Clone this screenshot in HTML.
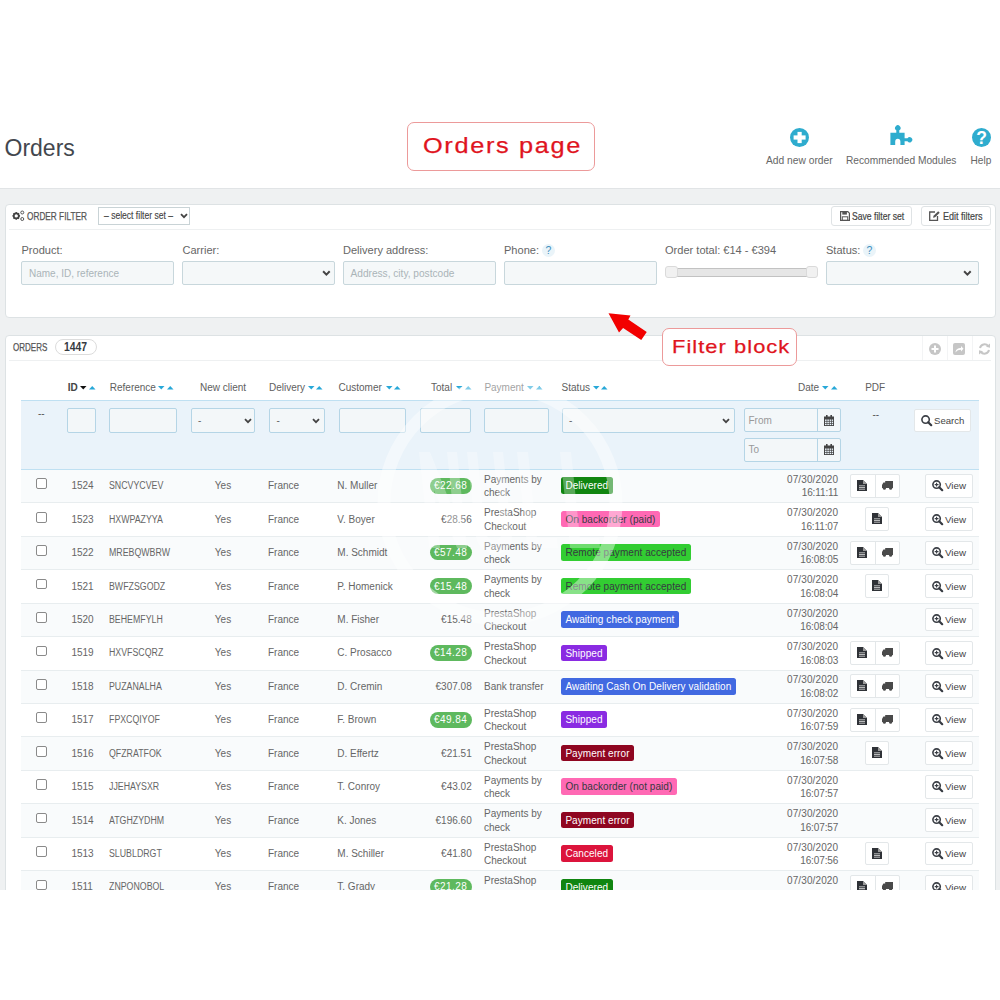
<!DOCTYPE html><html><head><meta charset="utf-8"><style>
*{box-sizing:border-box;margin:0;padding:0}
html,body{width:1000px;height:1000px;overflow:hidden;background:#fff;font-family:"Liberation Sans", sans-serif;}
.a{position:absolute}
.t{position:absolute;line-height:1;white-space:nowrap}
svg{position:absolute;overflow:visible}
</style></head><body><div class="t" style="top:136.83px;font-size:23px;color:#43474e;left:4.5px;">Orders</div>
<div class="a" style="left:407px;top:121.5px;width:187.5px;height:49.5px;border:1.3px solid #ec9a9a;border-radius:7px;background:#fff"></div>
<div class="t" style="top:134.68px;font-size:22px;color:#e0141e;left:422.5px;"><span style="display:inline-block;transform:scaleX(1.15);transform-origin:0 0;letter-spacing:1.45px;-webkit-text-stroke:0.25px #e0141e">Orders page</span></div>
<svg style="left:789.5px;top:128px" width="19" height="19" viewBox="0 0 19 19"><circle cx="9.5" cy="9.5" r="9.5" fill="#2eacce"/><rect x="3.6" y="7.4" width="12" height="4.2" fill="#fff"/><rect x="7.5" y="3.9" width="4.2" height="11.2" fill="#fff"/></svg>
<svg style="left:890px;top:126px" width="22" height="20" viewBox="0 0 22 20"><path fill="#2eacce" d="M0.4 6.8 H6.3 V4.25 A2.7 2.7 0 1 1 9.3 4.25 V6.8 H14.6 V12.3 H17.5 A2.6 2.6 0 1 1 17.5 15.3 H14.6 V19 H10.4 V15.8 A2.6 3 0 0 0 5.2 15.8 V19 H0.4 Z"/></svg>
<svg style="left:971.5px;top:127.5px" width="19" height="19" viewBox="0 0 19 19"><circle cx="9.5" cy="9.5" r="9.5" fill="#2eacce"/><text x="9.6" y="16.2" text-anchor="middle" font-family="Liberation Sans" font-weight="bold" font-size="17.5" fill="#fff">?</text></svg>
<div class="t" style="top:156.22px;font-size:10.25px;color:#666;left:766px;">Add new order</div>
<div class="t" style="top:156.27px;font-size:10.2px;color:#666;left:846px;">Recommended Modules</div>
<div class="t" style="top:156.35px;font-size:10.1px;color:#666;left:970.5px;">Help</div>
<div class="a" style="left:0px;top:188px;width:1000px;height:702px;background:#eff1f2;border-top:1px solid #e1e4e6"></div>
<div class="a" style="left:4.5px;top:203.5px;width:991px;height:114px;background:#fff;border:1px solid #dde2e4;border-radius:4px"></div>
<div class="a" style="left:9px;top:228.5px;width:982px;height:1px;background:#eef0f1"></div>
<svg style="left:11px;top:210px" width="14" height="12" viewBox="0 0 14 12"><g transform="translate(5.25,5.9)" fill="#444"><circle r="2.5" fill="none" stroke="#444" stroke-width="1.6"/><rect x="-0.8" y="-3.8" width="1.6" height="1.8" transform="rotate(0)"/><rect x="-0.8" y="-3.8" width="1.6" height="1.8" transform="rotate(45)"/><rect x="-0.8" y="-3.8" width="1.6" height="1.8" transform="rotate(90)"/><rect x="-0.8" y="-3.8" width="1.6" height="1.8" transform="rotate(135)"/><rect x="-0.8" y="-3.8" width="1.6" height="1.8" transform="rotate(180)"/><rect x="-0.8" y="-3.8" width="1.6" height="1.8" transform="rotate(225)"/><rect x="-0.8" y="-3.8" width="1.6" height="1.8" transform="rotate(270)"/><rect x="-0.8" y="-3.8" width="1.6" height="1.8" transform="rotate(315)"/></g><g fill="none" stroke="#555" stroke-width="1"><circle cx="11.25" cy="2.5" r="1.5"/><circle cx="11.25" cy="9" r="1.5"/></g></svg>
<div class="t" style="top:210.69px;font-size:11px;color:#555;left:27px;"><span style="display:inline-block;transform:scaleX(0.75);transform-origin:0 0;-webkit-text-stroke:0.25px #555">ORDER FILTER</span></div>
<div class="a" style="left:98px;top:207px;width:92px;height:17.5px;border:1px solid #c9d3d6;background:#fff"></div>
<div class="t" style="top:210.29px;font-size:11px;color:#444;left:104px;"><span style="display:inline-block;transform:scaleX(0.778);transform-origin:0 0;-webkit-text-stroke:0.15px #444">– select filter set –</span></div>
<svg style="left:180px;top:213px" width="8" height="6" viewBox="0 0 8 6"><path d="M1 1.2 L4 4.2 L7 1.2" fill="none" stroke="#444" stroke-width="1.8"/></svg>
<div class="a" style="left:831px;top:206.3px;width:81.3px;height:19.7px;border:1px solid #dfe3e5;border-radius:3px;background:#fff"></div>
<div class="a" style="left:921px;top:206.3px;width:70.3px;height:19.7px;border:1px solid #dfe3e5;border-radius:3px;background:#fff"></div>
<svg style="left:840px;top:211px" width="10" height="10" viewBox="0 0 10 10"><path d="M0.6 0.6 H7.8 L9.4 2.2 V9.4 H0.6 Z" fill="none" stroke="#555" stroke-width="1.2"/><rect x="2.3" y="0.6" width="4.6" height="3" fill="#555"/><rect x="2.3" y="5.8" width="5.4" height="3.6" fill="none" stroke="#555" stroke-width="1"/></svg>
<div class="t" style="top:210.99px;font-size:11px;color:#444;left:851.5px;"><span style="display:inline-block;transform:scaleX(0.783);transform-origin:0 0;-webkit-text-stroke:0.2px #444">Save filter set</span></div>
<svg style="left:929px;top:210.5px" width="11" height="10" viewBox="0 0 11 10"><path d="M6 1 H0.7 V9.3 H8.5 V5" fill="none" stroke="#555" stroke-width="1.3"/><path d="M4 6.8 L4.6 4.8 L9.2 0.3 L10.7 1.8 L6.1 6.3 Z" fill="#555"/></svg>
<div class="t" style="top:210.99px;font-size:11px;color:#444;left:943.3px;"><span style="display:inline-block;transform:scaleX(0.82);transform-origin:0 0;-webkit-text-stroke:0.2px #444">Edit filters</span></div>
<div class="t" style="top:245.35px;font-size:11.05px;color:#666;left:21.5px;">Product:</div>
<div class="t" style="top:245.35px;font-size:11.05px;color:#666;left:182.5px;">Carrier:</div>
<div class="t" style="top:245.35px;font-size:11.05px;color:#666;left:343px;">Delivery address:</div>
<div class="t" style="top:245.35px;font-size:11.05px;color:#666;left:504px;">Phone:</div>
<div class="t" style="top:245.35px;font-size:11.05px;color:#666;left:665px;">Order total: €14 - €394</div>
<div class="t" style="top:245.35px;font-size:11.05px;color:#666;left:826px;">Status:</div>
<svg style="left:542.2px;top:244.0px" width="13" height="13" viewBox="0 0 13 13"><circle cx="6.5" cy="6.5" r="6.5" fill="#eaf4f9"/><text x="6.5" y="10.2" text-anchor="middle" font-family="Liberation Sans" font-size="10.5" fill="#3f8fbf">?</text></svg>
<svg style="left:863.0px;top:244.0px" width="13" height="13" viewBox="0 0 13 13"><circle cx="6.5" cy="6.5" r="6.5" fill="#eaf4f9"/><text x="6.5" y="10.2" text-anchor="middle" font-family="Liberation Sans" font-size="10.5" fill="#3f8fbf">?</text></svg>
<div class="a" style="left:21px;top:261px;width:152.5px;height:24.3px;background:#f5f8f9;border:1px solid #c8d7dc;border-radius:2px"></div>
<div class="a" style="left:182px;top:261px;width:152.5px;height:24.3px;background:#f5f8f9;border:1px solid #c8d7dc;border-radius:2px"></div>
<div class="a" style="left:343px;top:261px;width:152.5px;height:24.3px;background:#f5f8f9;border:1px solid #c8d7dc;border-radius:2px"></div>
<div class="a" style="left:504px;top:261px;width:152.5px;height:24.3px;background:#f5f8f9;border:1px solid #c8d7dc;border-radius:2px"></div>
<div class="a" style="left:826px;top:261px;width:152.5px;height:24.3px;background:#f5f8f9;border:1px solid #c8d7dc;border-radius:2px"></div>
<div class="t" style="top:268.74px;font-size:10.0px;color:#aab4b8;left:29px;">Name, ID, reference</div>
<div class="t" style="top:268.61px;font-size:10.15px;color:#aab4b8;left:350.5px;">Address, city, postcode</div>
<svg style="left:321.5px;top:270.3px" width="8.8" height="6.6000000000000005" viewBox="0 0 8 6"><path d="M1 1.2 L4 4.2 L7 1.2" fill="none" stroke="#444" stroke-width="1.8"/></svg>
<svg style="left:962.5px;top:270.3px" width="8.8" height="6.6000000000000005" viewBox="0 0 8 6"><path d="M1 1.2 L4 4.2 L7 1.2" fill="none" stroke="#444" stroke-width="1.8"/></svg>
<div class="a" style="left:667px;top:267.8px;width:149px;height:9.2px;background:#e6e6e6;border:1px solid #c2c2c2;border-left:0;border-right:0"></div>
<div class="a" style="left:665px;top:266px;width:12.5px;height:12.4px;background:#f1f1f1;border:1px solid #dadada;border-radius:3px"></div>
<div class="a" style="left:805.5px;top:266px;width:12.5px;height:12.4px;background:#f1f1f1;border:1px solid #dadada;border-radius:3px"></div>
<div class="a" style="left:4.5px;top:334.5px;width:991px;height:600px;background:#fff;border:1px solid #dde2e4;border-radius:4px"></div>
<div class="a" style="left:9px;top:360px;width:982px;height:1px;background:#eef0f1"></div>
<div class="t" style="top:342.09px;font-size:11px;color:#555;left:12.6px;"><span style="display:inline-block;transform:scaleX(0.73);transform-origin:0 0;-webkit-text-stroke:0.25px #555">ORDERS</span></div>
<div class="a" style="left:55px;top:339px;width:42px;height:16.4px;border:1px solid #dcdcdc;border-radius:8.5px;background:#fff"></div>
<div class="t" style="top:341.22px;font-size:12.5px;color:#363a41;font-weight:bold;left:64px;"><span style="display:inline-block;transform:scaleX(0.83);transform-origin:0 0">1447</span></div>
<div class="a" style="left:921.5px;top:336px;width:1px;height:24px;background:#f3f4f5"></div>
<div class="a" style="left:946.5px;top:336px;width:1px;height:24px;background:#f3f4f5"></div>
<div class="a" style="left:971.5px;top:336px;width:1px;height:24px;background:#f3f4f5"></div>
<svg style="left:928.5px;top:342.5px" width="12" height="12" viewBox="0 0 12 12"><circle cx="6" cy="6" r="6" fill="#c6c6c6"/><rect x="2.5" y="5" width="7" height="2" fill="#fff"/><rect x="5" y="2.5" width="2" height="7" fill="#fff"/></svg>
<svg style="left:953px;top:342.5px" width="12" height="12" viewBox="0 0 12 12"><rect x="0" y="0" width="12" height="12" rx="2" fill="#c6c6c6"/><path d="M2.5 9.5 C3 6 5 5 8 5 V3 L10.5 5.8 L8 8.5 V6.8 C5.5 6.8 4 7.5 2.5 9.5 Z" fill="#fff"/></svg>
<svg style="left:977.5px;top:342.5px" width="13" height="12" viewBox="0 0 13 12"><path d="M2 5 A4.6 4.6 0 0 1 10.2 3.2" fill="none" stroke="#c6c6c6" stroke-width="2"/><path d="M11 7 A4.6 4.6 0 0 1 2.8 8.8" fill="none" stroke="#c6c6c6" stroke-width="2"/><path d="M8 3.8 L12 0.5 L12 4.8 Z" fill="#c6c6c6"/><path d="M5 8.2 L1 11.5 L1 7.2 Z" fill="#c6c6c6"/></svg>
<div class="t" style="top:382.84px;font-size:10px;color:#444;font-weight:bold;left:67.8px;">ID</div>
<svg style="left:80.3px;top:385.6px" width="6.5" height="3.5" viewBox="0 0 6.5 3.5"><path d="M0 0 H6.5 L3.25 3.5 Z" fill="#111"/></svg>
<svg style="left:89.1px;top:385.6px" width="6.5" height="3.5" viewBox="0 0 6.5 3.5"><path d="M0 3.5 H6.5 L3.25 0 Z" fill="#27a8d8"/></svg>
<div class="t" style="top:382.84px;font-size:10px;color:#606060;left:109.8px;">Reference</div>
<svg style="left:158px;top:385.6px" width="6.5" height="3.5" viewBox="0 0 6.5 3.5"><path d="M0 0 H6.5 L3.25 3.5 Z" fill="#27a8d8"/></svg>
<svg style="left:166.8px;top:385.6px" width="6.5" height="3.5" viewBox="0 0 6.5 3.5"><path d="M0 3.5 H6.5 L3.25 0 Z" fill="#27a8d8"/></svg>
<div class="t" style="top:382.84px;font-size:10px;color:#606060;left:193.0px;width:60px;text-align:center;">New client</div>
<div class="t" style="top:382.84px;font-size:10px;color:#606060;left:269px;">Delivery</div>
<svg style="left:307.5px;top:385.6px" width="6.5" height="3.5" viewBox="0 0 6.5 3.5"><path d="M0 0 H6.5 L3.25 3.5 Z" fill="#27a8d8"/></svg>
<svg style="left:316.3px;top:385.6px" width="6.5" height="3.5" viewBox="0 0 6.5 3.5"><path d="M0 3.5 H6.5 L3.25 0 Z" fill="#27a8d8"/></svg>
<div class="t" style="top:382.84px;font-size:10px;color:#606060;left:338.5px;">Customer</div>
<svg style="left:385.5px;top:385.6px" width="6.5" height="3.5" viewBox="0 0 6.5 3.5"><path d="M0 0 H6.5 L3.25 3.5 Z" fill="#27a8d8"/></svg>
<svg style="left:394.3px;top:385.6px" width="6.5" height="3.5" viewBox="0 0 6.5 3.5"><path d="M0 3.5 H6.5 L3.25 0 Z" fill="#27a8d8"/></svg>
<div class="t" style="top:382.84px;font-size:10px;color:#606060;left:431px;">Total</div>
<svg style="left:456px;top:385.6px" width="6.5" height="3.5" viewBox="0 0 6.5 3.5"><path d="M0 0 H6.5 L3.25 3.5 Z" fill="#27a8d8"/></svg>
<svg style="left:464.8px;top:385.6px" width="6.5" height="3.5" viewBox="0 0 6.5 3.5"><path d="M0 3.5 H6.5 L3.25 0 Z" fill="#27a8d8"/></svg>
<div class="t" style="top:382.84px;font-size:10px;color:#606060;left:484.4px;">Payment</div>
<svg style="left:527px;top:385.6px" width="6.5" height="3.5" viewBox="0 0 6.5 3.5"><path d="M0 0 H6.5 L3.25 3.5 Z" fill="#27a8d8"/></svg>
<svg style="left:535.8px;top:385.6px" width="6.5" height="3.5" viewBox="0 0 6.5 3.5"><path d="M0 3.5 H6.5 L3.25 0 Z" fill="#27a8d8"/></svg>
<div class="t" style="top:382.84px;font-size:10px;color:#606060;left:561.6px;">Status</div>
<svg style="left:592.5px;top:385.6px" width="6.5" height="3.5" viewBox="0 0 6.5 3.5"><path d="M0 0 H6.5 L3.25 3.5 Z" fill="#27a8d8"/></svg>
<svg style="left:601.3px;top:385.6px" width="6.5" height="3.5" viewBox="0 0 6.5 3.5"><path d="M0 3.5 H6.5 L3.25 0 Z" fill="#27a8d8"/></svg>
<div class="t" style="top:382.84px;font-size:10px;color:#606060;left:798px;">Date</div>
<svg style="left:822px;top:385.6px" width="6.5" height="3.5" viewBox="0 0 6.5 3.5"><path d="M0 0 H6.5 L3.25 3.5 Z" fill="#27a8d8"/></svg>
<svg style="left:830.8px;top:385.6px" width="6.5" height="3.5" viewBox="0 0 6.5 3.5"><path d="M0 3.5 H6.5 L3.25 0 Z" fill="#27a8d8"/></svg>
<div class="t" style="top:382.84px;font-size:10px;color:#606060;left:860.2px;width:30px;text-align:center;">PDF</div>
<div class="a" style="left:21px;top:399.5px;width:957.5px;height:70.5px;background:#eaf3fa;border-top:1px solid #bfe0f2;border-bottom:1px solid #bfe0f2"></div>
<div class="t" style="top:409.04px;font-size:10px;color:#555;left:38px;">--</div>
<div class="a" style="left:67px;top:408px;width:29px;height:24.5px;background:#f3f7f9;border:1px solid #b5d5e6;border-radius:2px"></div>
<div class="a" style="left:109px;top:408px;width:68px;height:24.5px;background:#f3f7f9;border:1px solid #b5d5e6;border-radius:2px"></div>
<div class="a" style="left:190.5px;top:408px;width:64.5px;height:24.5px;background:#f3f7f9;border:1px solid #b5d5e6;border-radius:2px"></div>
<div class="t" style="top:415.54px;font-size:10px;color:#666;left:198px;">-</div>
<svg style="left:243.5px;top:417.5px" width="8.0" height="6.0" viewBox="0 0 8 6"><path d="M1 1.2 L4 4.2 L7 1.2" fill="none" stroke="#444" stroke-width="1.8"/></svg>
<div class="a" style="left:269px;top:408px;width:55.7px;height:24.5px;background:#f3f7f9;border:1px solid #b5d5e6;border-radius:2px"></div>
<div class="t" style="top:415.54px;font-size:10px;color:#666;left:276.5px;">-</div>
<svg style="left:312px;top:417.5px" width="8.0" height="6.0" viewBox="0 0 8 6"><path d="M1 1.2 L4 4.2 L7 1.2" fill="none" stroke="#444" stroke-width="1.8"/></svg>
<div class="a" style="left:338.5px;top:408px;width:67.5px;height:24.5px;background:#f3f7f9;border:1px solid #b5d5e6;border-radius:2px"></div>
<div class="a" style="left:420px;top:408px;width:50.7px;height:24.5px;background:#f3f7f9;border:1px solid #b5d5e6;border-radius:2px"></div>
<div class="a" style="left:484px;top:408px;width:64.7px;height:24.5px;background:#f3f7f9;border:1px solid #b5d5e6;border-radius:2px"></div>
<div class="a" style="left:561.6px;top:408px;width:173.4px;height:24.5px;background:#f3f7f9;border:1px solid #b5d5e6;border-radius:2px"></div>
<div class="t" style="top:415.54px;font-size:10px;color:#666;left:569px;">-</div>
<svg style="left:722px;top:417.5px" width="8.0" height="6.0" viewBox="0 0 8 6"><path d="M1 1.2 L4 4.2 L7 1.2" fill="none" stroke="#444" stroke-width="1.8"/></svg>
<div class="a" style="left:744.3px;top:408px;width:97px;height:24.4px;background:#f3f7f9;border:1px solid #b5d5e6;border-radius:2px"></div>
<div class="a" style="left:816.6px;top:408px;width:1px;height:24.4px;background:#b5d5e6"></div>
<div class="t" style="top:415.54px;font-size:10px;color:#999;left:748.5px;">From</div>
<svg style="left:824px;top:414.5px" width="10" height="11" viewBox="0 0 10 11"><rect x="0" y="1.5" width="10" height="9.5" fill="#444"/><rect x="2" y="0" width="1.6" height="3" fill="#444"/><rect x="6.4" y="0" width="1.6" height="3" fill="#444"/><g fill="#eaf3fa"><rect x="1" y="4.5" width="1.6" height="1.4"/><rect x="3.3" y="4.5" width="1.6" height="1.4"/><rect x="5.6" y="4.5" width="1.6" height="1.4"/><rect x="7.9" y="4.5" width="1.2" height="1.4"/><rect x="1" y="6.6" width="1.6" height="1.4"/><rect x="3.3" y="6.6" width="1.6" height="1.4"/><rect x="5.6" y="6.6" width="1.6" height="1.4"/><rect x="7.9" y="6.6" width="1.2" height="1.4"/><rect x="1" y="8.7" width="1.6" height="1.4"/><rect x="3.3" y="8.7" width="1.6" height="1.4"/><rect x="5.6" y="8.7" width="1.6" height="1.4"/><rect x="7.9" y="8.7" width="1.2" height="1.4"/></g></svg>
<div class="a" style="left:744.3px;top:437.6px;width:97px;height:24.4px;background:#f3f7f9;border:1px solid #b5d5e6;border-radius:2px"></div>
<div class="a" style="left:816.6px;top:437.6px;width:1px;height:24.4px;background:#b5d5e6"></div>
<div class="t" style="top:445.14px;font-size:10px;color:#999;left:748.5px;">To</div>
<svg style="left:824px;top:444.1px" width="10" height="11" viewBox="0 0 10 11"><rect x="0" y="1.5" width="10" height="9.5" fill="#444"/><rect x="2" y="0" width="1.6" height="3" fill="#444"/><rect x="6.4" y="0" width="1.6" height="3" fill="#444"/><g fill="#eaf3fa"><rect x="1" y="4.5" width="1.6" height="1.4"/><rect x="3.3" y="4.5" width="1.6" height="1.4"/><rect x="5.6" y="4.5" width="1.6" height="1.4"/><rect x="7.9" y="4.5" width="1.2" height="1.4"/><rect x="1" y="6.6" width="1.6" height="1.4"/><rect x="3.3" y="6.6" width="1.6" height="1.4"/><rect x="5.6" y="6.6" width="1.6" height="1.4"/><rect x="7.9" y="6.6" width="1.2" height="1.4"/><rect x="1" y="8.7" width="1.6" height="1.4"/><rect x="3.3" y="8.7" width="1.6" height="1.4"/><rect x="5.6" y="8.7" width="1.6" height="1.4"/><rect x="7.9" y="8.7" width="1.2" height="1.4"/></g></svg>
<div class="t" style="top:409.54px;font-size:10px;color:#555;left:872.5px;">--</div>
<div class="a" style="left:913.8px;top:409px;width:57.5px;height:23.4px;background:#fff;border:1px solid #e3e7e9;border-radius:2px"></div>
<svg style="left:921px;top:415px" width="11" height="11" viewBox="0 0 11 11"><circle cx="4.6" cy="4.6" r="3.7" fill="none" stroke="#3a3e45" stroke-width="1.6"/><path d="M7.2 7.2 L10.2 10.2" stroke="#363a41" stroke-width="2.2" stroke-linecap="round"/></svg>
<div class="t" style="top:416.17px;font-size:9.6px;color:#444;left:934px;">Search</div>
<div class="a" style="left:21px;top:470.0px;width:957.5px;height:33.43px;background:#f9fbfc;border-bottom:1px solid #e8edef"></div>
<div class="a" style="left:36px;top:478.35px;width:10.8px;height:10.8px;border:1px solid #8a8a8a;border-radius:2px;background:#fff"></div>
<div class="t" style="top:481.29px;font-size:10px;color:#666;left:71.4px;">1524</div>
<div class="t" style="top:481.29px;font-size:10px;color:#666;left:109px;"><span style="display:inline-block;transform:scaleX(0.88);transform-origin:0 0">SNCVYCVEV</span></div>
<div class="t" style="top:481.29px;font-size:10px;color:#666;left:208.0px;width:30px;text-align:center;">Yes</div>
<div class="t" style="top:481.29px;font-size:10px;color:#666;left:268px;">France</div>
<div class="t" style="top:481.29px;font-size:10px;color:#666;left:337.3px;">N. Muller</div>
<div class="a" style="left:429.6px;top:477.95px;width:42px;height:15.6px;background:#5eb95e;border-radius:8px"></div>
<div class="t" style="top:481.29px;font-size:10px;color:#fff;right:532.8px;text-align:right;letter-spacing:0.45px;">€22.68</div>
<div class="t" style="top:474.79px;font-size:10px;color:#666;left:484px;">Payments by</div>
<div class="t" style="top:488.39px;font-size:10px;color:#666;left:484px;">check</div>
<div class="t" style="left:561px;top:477.45px;height:16.6px;line-height:15.6px;padding:1px 4.4px 0;background:#108510;color:#fff;font-size:10px;border-radius:2.5px;letter-spacing:0.06px">Delivered</div>
<div class="t" style="top:474.79px;font-size:10px;color:#666;right:161.79999999999995px;text-align:right;letter-spacing:0.12px;">07/30/2020</div>
<div class="t" style="top:488.39px;font-size:10px;color:#666;right:161.79999999999995px;text-align:right;letter-spacing:-0.12px;">16:11:11</div>
<div class="a" style="left:850.3px;top:473.85px;width:49.5px;height:23.8px;background:#fff;border:1px solid #e3e7e9;border-radius:2px"></div>
<div class="a" style="left:874.5px;top:473.85px;width:1px;height:23.8px;background:#e3e7e9"></div>
<svg style="left:857.4px;top:479.85px" width="10" height="11" viewBox="0 0 10 11"><path d="M0 0 H6 L10 4 V11 H0 Z" fill="#2f3237"/><path d="M6 0 V4 H10 Z" fill="#9a9a9a"/><path d="M2 5.8 H8 M2 7.5 H8 M2 9.2 H8" stroke="#ddd" stroke-width="0.8"/></svg>
<svg style="left:881.8px;top:480.95px" width="11" height="9" viewBox="0 0 11 9"><path d="M3.2 0 H11 V7 H0 V4 L1.4 1.6 H3.2 Z" fill="#4a4a4a"/><circle cx="2.4" cy="7.3" r="1.5" fill="#4a4a4a"/><circle cx="8.6" cy="7.3" r="1.5" fill="#4a4a4a"/></svg>
<div class="a" style="left:924.5px;top:473.85px;width:48px;height:23.8px;background:#fff;border:1px solid #e3e7e9;border-radius:2px"></div>
<svg style="left:931.5px;top:480.45px" width="11" height="11" viewBox="0 0 11 11"><circle cx="4.6" cy="4.6" r="3.7" fill="none" stroke="#3a3e45" stroke-width="1.6"/><path d="M7.2 7.2 L10.2 10.2" stroke="#363a41" stroke-width="2.2" stroke-linecap="round"/><path d="M2.7 4.6 H6.5 M4.6 2.7 V6.5" stroke="#3a3e45" stroke-width="1.1"/></svg>
<div class="t" style="top:481.45px;font-size:9.8px;color:#444;left:945px;">View</div>
<div class="a" style="left:21px;top:503.43px;width:957.5px;height:33.43px;background:#fff;border-bottom:1px solid #e8edef"></div>
<div class="a" style="left:36px;top:511.7800000000001px;width:10.8px;height:10.8px;border:1px solid #8a8a8a;border-radius:2px;background:#fff"></div>
<div class="t" style="top:514.72px;font-size:10px;color:#666;left:71.4px;">1523</div>
<div class="t" style="top:514.72px;font-size:10px;color:#666;left:109px;"><span style="display:inline-block;transform:scaleX(0.88);transform-origin:0 0">HXWPAZYYA</span></div>
<div class="t" style="top:514.72px;font-size:10px;color:#666;left:208.0px;width:30px;text-align:center;">Yes</div>
<div class="t" style="top:514.72px;font-size:10px;color:#666;left:268px;">France</div>
<div class="t" style="top:514.72px;font-size:10px;color:#666;left:337.3px;">V. Boyer</div>
<div class="t" style="top:514.72px;font-size:10px;color:#666;right:528.3px;text-align:right;">€28.56</div>
<div class="t" style="top:508.22px;font-size:10px;color:#666;left:484px;">PrestaShop</div>
<div class="t" style="top:521.82px;font-size:10px;color:#666;left:484px;">Checkout</div>
<div class="t" style="left:561px;top:510.88px;height:16.6px;line-height:15.6px;padding:1px 4.4px 0;background:#ff69b4;color:#363a41;font-size:10px;border-radius:2.5px;letter-spacing:0.06px">On backorder (paid)</div>
<div class="t" style="top:508.22px;font-size:10px;color:#666;right:161.79999999999995px;text-align:right;letter-spacing:0.12px;">07/30/2020</div>
<div class="t" style="top:521.82px;font-size:10px;color:#666;right:161.79999999999995px;text-align:right;letter-spacing:-0.12px;">16:11:07</div>
<div class="a" style="left:864.6px;top:507.2800000000001px;width:24.2px;height:23.8px;background:#fff;border:1px solid #e3e7e9;border-radius:2px"></div>
<svg style="left:871.7px;top:513.2800000000001px" width="10" height="11" viewBox="0 0 10 11"><path d="M0 0 H6 L10 4 V11 H0 Z" fill="#2f3237"/><path d="M6 0 V4 H10 Z" fill="#9a9a9a"/><path d="M2 5.8 H8 M2 7.5 H8 M2 9.2 H8" stroke="#ddd" stroke-width="0.8"/></svg>
<div class="a" style="left:924.5px;top:507.2800000000001px;width:48px;height:23.8px;background:#fff;border:1px solid #e3e7e9;border-radius:2px"></div>
<svg style="left:931.5px;top:513.8800000000001px" width="11" height="11" viewBox="0 0 11 11"><circle cx="4.6" cy="4.6" r="3.7" fill="none" stroke="#3a3e45" stroke-width="1.6"/><path d="M7.2 7.2 L10.2 10.2" stroke="#363a41" stroke-width="2.2" stroke-linecap="round"/><path d="M2.7 4.6 H6.5 M4.6 2.7 V6.5" stroke="#3a3e45" stroke-width="1.1"/></svg>
<div class="t" style="top:514.88px;font-size:9.8px;color:#444;left:945px;">View</div>
<div class="a" style="left:21px;top:536.86px;width:957.5px;height:33.43px;background:#f9fbfc;border-bottom:1px solid #e8edef"></div>
<div class="a" style="left:36px;top:545.21px;width:10.8px;height:10.8px;border:1px solid #8a8a8a;border-radius:2px;background:#fff"></div>
<div class="t" style="top:548.14px;font-size:10px;color:#666;left:71.4px;">1522</div>
<div class="t" style="top:548.14px;font-size:10px;color:#666;left:109px;"><span style="display:inline-block;transform:scaleX(0.88);transform-origin:0 0">MREBQWBRW</span></div>
<div class="t" style="top:548.14px;font-size:10px;color:#666;left:208.0px;width:30px;text-align:center;">Yes</div>
<div class="t" style="top:548.14px;font-size:10px;color:#666;left:268px;">France</div>
<div class="t" style="top:548.14px;font-size:10px;color:#666;left:337.3px;">M. Schmidt</div>
<div class="a" style="left:429.6px;top:544.8100000000001px;width:42px;height:15.6px;background:#5eb95e;border-radius:8px"></div>
<div class="t" style="top:548.14px;font-size:10px;color:#fff;right:532.8px;text-align:right;letter-spacing:0.45px;">€57.48</div>
<div class="t" style="top:541.64px;font-size:10px;color:#666;left:484px;">Payments by</div>
<div class="t" style="top:555.25px;font-size:10px;color:#666;left:484px;">check</div>
<div class="t" style="left:561px;top:544.31px;height:16.6px;line-height:15.6px;padding:1px 4.4px 0;background:#32cd32;color:#363a41;font-size:10px;border-radius:2.5px;letter-spacing:0.06px">Remote payment accepted</div>
<div class="t" style="top:541.64px;font-size:10px;color:#666;right:161.79999999999995px;text-align:right;letter-spacing:0.12px;">07/30/2020</div>
<div class="t" style="top:555.25px;font-size:10px;color:#666;right:161.79999999999995px;text-align:right;letter-spacing:-0.12px;">16:08:05</div>
<div class="a" style="left:850.3px;top:540.71px;width:49.5px;height:23.8px;background:#fff;border:1px solid #e3e7e9;border-radius:2px"></div>
<div class="a" style="left:874.5px;top:540.71px;width:1px;height:23.8px;background:#e3e7e9"></div>
<svg style="left:857.4px;top:546.71px" width="10" height="11" viewBox="0 0 10 11"><path d="M0 0 H6 L10 4 V11 H0 Z" fill="#2f3237"/><path d="M6 0 V4 H10 Z" fill="#9a9a9a"/><path d="M2 5.8 H8 M2 7.5 H8 M2 9.2 H8" stroke="#ddd" stroke-width="0.8"/></svg>
<svg style="left:881.8px;top:547.8100000000001px" width="11" height="9" viewBox="0 0 11 9"><path d="M3.2 0 H11 V7 H0 V4 L1.4 1.6 H3.2 Z" fill="#4a4a4a"/><circle cx="2.4" cy="7.3" r="1.5" fill="#4a4a4a"/><circle cx="8.6" cy="7.3" r="1.5" fill="#4a4a4a"/></svg>
<div class="a" style="left:924.5px;top:540.71px;width:48px;height:23.8px;background:#fff;border:1px solid #e3e7e9;border-radius:2px"></div>
<svg style="left:931.5px;top:547.3100000000001px" width="11" height="11" viewBox="0 0 11 11"><circle cx="4.6" cy="4.6" r="3.7" fill="none" stroke="#3a3e45" stroke-width="1.6"/><path d="M7.2 7.2 L10.2 10.2" stroke="#363a41" stroke-width="2.2" stroke-linecap="round"/><path d="M2.7 4.6 H6.5 M4.6 2.7 V6.5" stroke="#3a3e45" stroke-width="1.1"/></svg>
<div class="t" style="top:548.31px;font-size:9.8px;color:#444;left:945px;">View</div>
<div class="a" style="left:21px;top:570.29px;width:957.5px;height:33.43px;background:#fff;border-bottom:1px solid #e8edef"></div>
<div class="a" style="left:36px;top:578.64px;width:10.8px;height:10.8px;border:1px solid #8a8a8a;border-radius:2px;background:#fff"></div>
<div class="t" style="top:581.57px;font-size:10px;color:#666;left:71.4px;">1521</div>
<div class="t" style="top:581.57px;font-size:10px;color:#666;left:109px;"><span style="display:inline-block;transform:scaleX(0.88);transform-origin:0 0">BWFZSGODZ</span></div>
<div class="t" style="top:581.57px;font-size:10px;color:#666;left:208.0px;width:30px;text-align:center;">Yes</div>
<div class="t" style="top:581.57px;font-size:10px;color:#666;left:268px;">France</div>
<div class="t" style="top:581.57px;font-size:10px;color:#666;left:337.3px;">P. Homenick</div>
<div class="a" style="left:429.6px;top:578.24px;width:42px;height:15.6px;background:#5eb95e;border-radius:8px"></div>
<div class="t" style="top:581.57px;font-size:10px;color:#fff;right:532.8px;text-align:right;letter-spacing:0.45px;">€15.48</div>
<div class="t" style="top:575.07px;font-size:10px;color:#666;left:484px;">Payments by</div>
<div class="t" style="top:588.67px;font-size:10px;color:#666;left:484px;">check</div>
<div class="t" style="left:561px;top:577.74px;height:16.6px;line-height:15.6px;padding:1px 4.4px 0;background:#32cd32;color:#363a41;font-size:10px;border-radius:2.5px;letter-spacing:0.06px">Remote payment accepted</div>
<div class="t" style="top:575.07px;font-size:10px;color:#666;right:161.79999999999995px;text-align:right;letter-spacing:0.12px;">07/30/2020</div>
<div class="t" style="top:588.67px;font-size:10px;color:#666;right:161.79999999999995px;text-align:right;letter-spacing:-0.12px;">16:08:04</div>
<div class="a" style="left:864.6px;top:574.14px;width:24.2px;height:23.8px;background:#fff;border:1px solid #e3e7e9;border-radius:2px"></div>
<svg style="left:871.7px;top:580.14px" width="10" height="11" viewBox="0 0 10 11"><path d="M0 0 H6 L10 4 V11 H0 Z" fill="#2f3237"/><path d="M6 0 V4 H10 Z" fill="#9a9a9a"/><path d="M2 5.8 H8 M2 7.5 H8 M2 9.2 H8" stroke="#ddd" stroke-width="0.8"/></svg>
<div class="a" style="left:924.5px;top:574.14px;width:48px;height:23.8px;background:#fff;border:1px solid #e3e7e9;border-radius:2px"></div>
<svg style="left:931.5px;top:580.74px" width="11" height="11" viewBox="0 0 11 11"><circle cx="4.6" cy="4.6" r="3.7" fill="none" stroke="#3a3e45" stroke-width="1.6"/><path d="M7.2 7.2 L10.2 10.2" stroke="#363a41" stroke-width="2.2" stroke-linecap="round"/><path d="M2.7 4.6 H6.5 M4.6 2.7 V6.5" stroke="#3a3e45" stroke-width="1.1"/></svg>
<div class="t" style="top:581.74px;font-size:9.8px;color:#444;left:945px;">View</div>
<div class="a" style="left:21px;top:603.72px;width:957.5px;height:33.43px;background:#f9fbfc;border-bottom:1px solid #e8edef"></div>
<div class="a" style="left:36px;top:612.07px;width:10.8px;height:10.8px;border:1px solid #8a8a8a;border-radius:2px;background:#fff"></div>
<div class="t" style="top:615.00px;font-size:10px;color:#666;left:71.4px;">1520</div>
<div class="t" style="top:615.00px;font-size:10px;color:#666;left:109px;"><span style="display:inline-block;transform:scaleX(0.88);transform-origin:0 0">BEHEMFYLH</span></div>
<div class="t" style="top:615.00px;font-size:10px;color:#666;left:208.0px;width:30px;text-align:center;">Yes</div>
<div class="t" style="top:615.00px;font-size:10px;color:#666;left:268px;">France</div>
<div class="t" style="top:615.00px;font-size:10px;color:#666;left:337.3px;">M. Fisher</div>
<div class="t" style="top:615.00px;font-size:10px;color:#666;right:528.3px;text-align:right;">€15.48</div>
<div class="t" style="top:608.50px;font-size:10px;color:#666;left:484px;">PrestaShop</div>
<div class="t" style="top:622.11px;font-size:10px;color:#666;left:484px;">Checkout</div>
<div class="t" style="left:561px;top:611.17px;height:16.6px;line-height:15.6px;padding:1px 4.4px 0;background:#4169e1;color:#fff;font-size:10px;border-radius:2.5px;letter-spacing:0.06px">Awaiting check payment</div>
<div class="t" style="top:608.50px;font-size:10px;color:#666;right:161.79999999999995px;text-align:right;letter-spacing:0.12px;">07/30/2020</div>
<div class="t" style="top:622.11px;font-size:10px;color:#666;right:161.79999999999995px;text-align:right;letter-spacing:-0.12px;">16:08:04</div>
<div class="a" style="left:924.5px;top:607.57px;width:48px;height:23.8px;background:#fff;border:1px solid #e3e7e9;border-radius:2px"></div>
<svg style="left:931.5px;top:614.1700000000001px" width="11" height="11" viewBox="0 0 11 11"><circle cx="4.6" cy="4.6" r="3.7" fill="none" stroke="#3a3e45" stroke-width="1.6"/><path d="M7.2 7.2 L10.2 10.2" stroke="#363a41" stroke-width="2.2" stroke-linecap="round"/><path d="M2.7 4.6 H6.5 M4.6 2.7 V6.5" stroke="#3a3e45" stroke-width="1.1"/></svg>
<div class="t" style="top:615.17px;font-size:9.8px;color:#444;left:945px;">View</div>
<div class="a" style="left:21px;top:637.15px;width:957.5px;height:33.43px;background:#fff;border-bottom:1px solid #e8edef"></div>
<div class="a" style="left:36px;top:645.5px;width:10.8px;height:10.8px;border:1px solid #8a8a8a;border-radius:2px;background:#fff"></div>
<div class="t" style="top:648.43px;font-size:10px;color:#666;left:71.4px;">1519</div>
<div class="t" style="top:648.43px;font-size:10px;color:#666;left:109px;"><span style="display:inline-block;transform:scaleX(0.88);transform-origin:0 0">HXVFSCQRZ</span></div>
<div class="t" style="top:648.43px;font-size:10px;color:#666;left:208.0px;width:30px;text-align:center;">Yes</div>
<div class="t" style="top:648.43px;font-size:10px;color:#666;left:268px;">France</div>
<div class="t" style="top:648.43px;font-size:10px;color:#666;left:337.3px;">C. Prosacco</div>
<div class="a" style="left:429.6px;top:645.1px;width:42px;height:15.6px;background:#5eb95e;border-radius:8px"></div>
<div class="t" style="top:648.43px;font-size:10px;color:#fff;right:532.8px;text-align:right;letter-spacing:0.45px;">€14.28</div>
<div class="t" style="top:641.93px;font-size:10px;color:#666;left:484px;">PrestaShop</div>
<div class="t" style="top:655.53px;font-size:10px;color:#666;left:484px;">Checkout</div>
<div class="t" style="left:561px;top:644.60px;height:16.6px;line-height:15.6px;padding:1px 4.4px 0;background:#8a2be2;color:#fff;font-size:10px;border-radius:2.5px;letter-spacing:0.06px">Shipped</div>
<div class="t" style="top:641.93px;font-size:10px;color:#666;right:161.79999999999995px;text-align:right;letter-spacing:0.12px;">07/30/2020</div>
<div class="t" style="top:655.53px;font-size:10px;color:#666;right:161.79999999999995px;text-align:right;letter-spacing:-0.12px;">16:08:03</div>
<div class="a" style="left:850.3px;top:641.0px;width:49.5px;height:23.8px;background:#fff;border:1px solid #e3e7e9;border-radius:2px"></div>
<div class="a" style="left:874.5px;top:641.0px;width:1px;height:23.8px;background:#e3e7e9"></div>
<svg style="left:857.4px;top:647.0px" width="10" height="11" viewBox="0 0 10 11"><path d="M0 0 H6 L10 4 V11 H0 Z" fill="#2f3237"/><path d="M6 0 V4 H10 Z" fill="#9a9a9a"/><path d="M2 5.8 H8 M2 7.5 H8 M2 9.2 H8" stroke="#ddd" stroke-width="0.8"/></svg>
<svg style="left:881.8px;top:648.1px" width="11" height="9" viewBox="0 0 11 9"><path d="M3.2 0 H11 V7 H0 V4 L1.4 1.6 H3.2 Z" fill="#4a4a4a"/><circle cx="2.4" cy="7.3" r="1.5" fill="#4a4a4a"/><circle cx="8.6" cy="7.3" r="1.5" fill="#4a4a4a"/></svg>
<div class="a" style="left:924.5px;top:641.0px;width:48px;height:23.8px;background:#fff;border:1px solid #e3e7e9;border-radius:2px"></div>
<svg style="left:931.5px;top:647.6px" width="11" height="11" viewBox="0 0 11 11"><circle cx="4.6" cy="4.6" r="3.7" fill="none" stroke="#3a3e45" stroke-width="1.6"/><path d="M7.2 7.2 L10.2 10.2" stroke="#363a41" stroke-width="2.2" stroke-linecap="round"/><path d="M2.7 4.6 H6.5 M4.6 2.7 V6.5" stroke="#3a3e45" stroke-width="1.1"/></svg>
<div class="t" style="top:648.60px;font-size:9.8px;color:#444;left:945px;">View</div>
<div class="a" style="left:21px;top:670.5799999999999px;width:957.5px;height:33.43px;background:#f9fbfc;border-bottom:1px solid #e8edef"></div>
<div class="a" style="left:36px;top:678.93px;width:10.8px;height:10.8px;border:1px solid #8a8a8a;border-radius:2px;background:#fff"></div>
<div class="t" style="top:681.86px;font-size:10px;color:#666;left:71.4px;">1518</div>
<div class="t" style="top:681.86px;font-size:10px;color:#666;left:109px;"><span style="display:inline-block;transform:scaleX(0.88);transform-origin:0 0">PUZANALHA</span></div>
<div class="t" style="top:681.86px;font-size:10px;color:#666;left:208.0px;width:30px;text-align:center;">Yes</div>
<div class="t" style="top:681.86px;font-size:10px;color:#666;left:268px;">France</div>
<div class="t" style="top:681.86px;font-size:10px;color:#666;left:337.3px;">D. Cremin</div>
<div class="t" style="top:681.86px;font-size:10px;color:#666;right:528.3px;text-align:right;">€307.08</div>
<div class="t" style="top:681.86px;font-size:10px;color:#666;left:484px;">Bank transfer</div>
<div class="t" style="left:561px;top:678.03px;height:16.6px;line-height:15.6px;padding:1px 4.4px 0;background:#4169e1;color:#fff;font-size:10px;border-radius:2.5px;letter-spacing:0.06px">Awaiting Cash On Delivery validation</div>
<div class="t" style="top:675.36px;font-size:10px;color:#666;right:161.79999999999995px;text-align:right;letter-spacing:0.12px;">07/30/2020</div>
<div class="t" style="top:688.96px;font-size:10px;color:#666;right:161.79999999999995px;text-align:right;letter-spacing:-0.12px;">16:08:02</div>
<div class="a" style="left:850.3px;top:674.43px;width:49.5px;height:23.8px;background:#fff;border:1px solid #e3e7e9;border-radius:2px"></div>
<div class="a" style="left:874.5px;top:674.43px;width:1px;height:23.8px;background:#e3e7e9"></div>
<svg style="left:857.4px;top:680.43px" width="10" height="11" viewBox="0 0 10 11"><path d="M0 0 H6 L10 4 V11 H0 Z" fill="#2f3237"/><path d="M6 0 V4 H10 Z" fill="#9a9a9a"/><path d="M2 5.8 H8 M2 7.5 H8 M2 9.2 H8" stroke="#ddd" stroke-width="0.8"/></svg>
<svg style="left:881.8px;top:681.53px" width="11" height="9" viewBox="0 0 11 9"><path d="M3.2 0 H11 V7 H0 V4 L1.4 1.6 H3.2 Z" fill="#4a4a4a"/><circle cx="2.4" cy="7.3" r="1.5" fill="#4a4a4a"/><circle cx="8.6" cy="7.3" r="1.5" fill="#4a4a4a"/></svg>
<div class="a" style="left:924.5px;top:674.43px;width:48px;height:23.8px;background:#fff;border:1px solid #e3e7e9;border-radius:2px"></div>
<svg style="left:931.5px;top:681.03px" width="11" height="11" viewBox="0 0 11 11"><circle cx="4.6" cy="4.6" r="3.7" fill="none" stroke="#3a3e45" stroke-width="1.6"/><path d="M7.2 7.2 L10.2 10.2" stroke="#363a41" stroke-width="2.2" stroke-linecap="round"/><path d="M2.7 4.6 H6.5 M4.6 2.7 V6.5" stroke="#3a3e45" stroke-width="1.1"/></svg>
<div class="t" style="top:682.03px;font-size:9.8px;color:#444;left:945px;">View</div>
<div class="a" style="left:21px;top:704.01px;width:957.5px;height:33.43px;background:#fff;border-bottom:1px solid #e8edef"></div>
<div class="a" style="left:36px;top:712.36px;width:10.8px;height:10.8px;border:1px solid #8a8a8a;border-radius:2px;background:#fff"></div>
<div class="t" style="top:715.29px;font-size:10px;color:#666;left:71.4px;">1517</div>
<div class="t" style="top:715.29px;font-size:10px;color:#666;left:109px;"><span style="display:inline-block;transform:scaleX(0.88);transform-origin:0 0">FPXCQIYOF</span></div>
<div class="t" style="top:715.29px;font-size:10px;color:#666;left:208.0px;width:30px;text-align:center;">Yes</div>
<div class="t" style="top:715.29px;font-size:10px;color:#666;left:268px;">France</div>
<div class="t" style="top:715.29px;font-size:10px;color:#666;left:337.3px;">F. Brown</div>
<div class="a" style="left:429.6px;top:711.96px;width:42px;height:15.6px;background:#5eb95e;border-radius:8px"></div>
<div class="t" style="top:715.29px;font-size:10px;color:#fff;right:532.8px;text-align:right;letter-spacing:0.45px;">€49.84</div>
<div class="t" style="top:708.79px;font-size:10px;color:#666;left:484px;">PrestaShop</div>
<div class="t" style="top:722.39px;font-size:10px;color:#666;left:484px;">Checkout</div>
<div class="t" style="left:561px;top:711.46px;height:16.6px;line-height:15.6px;padding:1px 4.4px 0;background:#8a2be2;color:#fff;font-size:10px;border-radius:2.5px;letter-spacing:0.06px">Shipped</div>
<div class="t" style="top:708.79px;font-size:10px;color:#666;right:161.79999999999995px;text-align:right;letter-spacing:0.12px;">07/30/2020</div>
<div class="t" style="top:722.39px;font-size:10px;color:#666;right:161.79999999999995px;text-align:right;letter-spacing:-0.12px;">16:07:59</div>
<div class="a" style="left:850.3px;top:707.86px;width:49.5px;height:23.8px;background:#fff;border:1px solid #e3e7e9;border-radius:2px"></div>
<div class="a" style="left:874.5px;top:707.86px;width:1px;height:23.8px;background:#e3e7e9"></div>
<svg style="left:857.4px;top:713.86px" width="10" height="11" viewBox="0 0 10 11"><path d="M0 0 H6 L10 4 V11 H0 Z" fill="#2f3237"/><path d="M6 0 V4 H10 Z" fill="#9a9a9a"/><path d="M2 5.8 H8 M2 7.5 H8 M2 9.2 H8" stroke="#ddd" stroke-width="0.8"/></svg>
<svg style="left:881.8px;top:714.96px" width="11" height="9" viewBox="0 0 11 9"><path d="M3.2 0 H11 V7 H0 V4 L1.4 1.6 H3.2 Z" fill="#4a4a4a"/><circle cx="2.4" cy="7.3" r="1.5" fill="#4a4a4a"/><circle cx="8.6" cy="7.3" r="1.5" fill="#4a4a4a"/></svg>
<div class="a" style="left:924.5px;top:707.86px;width:48px;height:23.8px;background:#fff;border:1px solid #e3e7e9;border-radius:2px"></div>
<svg style="left:931.5px;top:714.46px" width="11" height="11" viewBox="0 0 11 11"><circle cx="4.6" cy="4.6" r="3.7" fill="none" stroke="#3a3e45" stroke-width="1.6"/><path d="M7.2 7.2 L10.2 10.2" stroke="#363a41" stroke-width="2.2" stroke-linecap="round"/><path d="M2.7 4.6 H6.5 M4.6 2.7 V6.5" stroke="#3a3e45" stroke-width="1.1"/></svg>
<div class="t" style="top:715.46px;font-size:9.8px;color:#444;left:945px;">View</div>
<div class="a" style="left:21px;top:737.44px;width:957.5px;height:33.43px;background:#f9fbfc;border-bottom:1px solid #e8edef"></div>
<div class="a" style="left:36px;top:745.7900000000001px;width:10.8px;height:10.8px;border:1px solid #8a8a8a;border-radius:2px;background:#fff"></div>
<div class="t" style="top:748.73px;font-size:10px;color:#666;left:71.4px;">1516</div>
<div class="t" style="top:748.73px;font-size:10px;color:#666;left:109px;"><span style="display:inline-block;transform:scaleX(0.88);transform-origin:0 0">QFZRATFOK</span></div>
<div class="t" style="top:748.73px;font-size:10px;color:#666;left:208.0px;width:30px;text-align:center;">Yes</div>
<div class="t" style="top:748.73px;font-size:10px;color:#666;left:268px;">France</div>
<div class="t" style="top:748.73px;font-size:10px;color:#666;left:337.3px;">D. Effertz</div>
<div class="t" style="top:748.73px;font-size:10px;color:#666;right:528.3px;text-align:right;">€21.51</div>
<div class="t" style="top:742.23px;font-size:10px;color:#666;left:484px;">PrestaShop</div>
<div class="t" style="top:755.83px;font-size:10px;color:#666;left:484px;">Checkout</div>
<div class="t" style="left:561px;top:744.89px;height:16.6px;line-height:15.6px;padding:1px 4.4px 0;background:#8f0621;color:#fff;font-size:10px;border-radius:2.5px;letter-spacing:0.06px">Payment error</div>
<div class="t" style="top:742.23px;font-size:10px;color:#666;right:161.79999999999995px;text-align:right;letter-spacing:0.12px;">07/30/2020</div>
<div class="t" style="top:755.83px;font-size:10px;color:#666;right:161.79999999999995px;text-align:right;letter-spacing:-0.12px;">16:07:58</div>
<div class="a" style="left:864.6px;top:741.2900000000001px;width:24.2px;height:23.8px;background:#fff;border:1px solid #e3e7e9;border-radius:2px"></div>
<svg style="left:871.7px;top:747.2900000000001px" width="10" height="11" viewBox="0 0 10 11"><path d="M0 0 H6 L10 4 V11 H0 Z" fill="#2f3237"/><path d="M6 0 V4 H10 Z" fill="#9a9a9a"/><path d="M2 5.8 H8 M2 7.5 H8 M2 9.2 H8" stroke="#ddd" stroke-width="0.8"/></svg>
<div class="a" style="left:924.5px;top:741.2900000000001px;width:48px;height:23.8px;background:#fff;border:1px solid #e3e7e9;border-radius:2px"></div>
<svg style="left:931.5px;top:747.8900000000001px" width="11" height="11" viewBox="0 0 11 11"><circle cx="4.6" cy="4.6" r="3.7" fill="none" stroke="#3a3e45" stroke-width="1.6"/><path d="M7.2 7.2 L10.2 10.2" stroke="#363a41" stroke-width="2.2" stroke-linecap="round"/><path d="M2.7 4.6 H6.5 M4.6 2.7 V6.5" stroke="#3a3e45" stroke-width="1.1"/></svg>
<div class="t" style="top:748.89px;font-size:9.8px;color:#444;left:945px;">View</div>
<div class="a" style="left:21px;top:770.87px;width:957.5px;height:33.43px;background:#fff;border-bottom:1px solid #e8edef"></div>
<div class="a" style="left:36px;top:779.22px;width:10.8px;height:10.8px;border:1px solid #8a8a8a;border-radius:2px;background:#fff"></div>
<div class="t" style="top:782.15px;font-size:10px;color:#666;left:71.4px;">1515</div>
<div class="t" style="top:782.15px;font-size:10px;color:#666;left:109px;"><span style="display:inline-block;transform:scaleX(0.88);transform-origin:0 0">JJEHAYSXR</span></div>
<div class="t" style="top:782.15px;font-size:10px;color:#666;left:208.0px;width:30px;text-align:center;">Yes</div>
<div class="t" style="top:782.15px;font-size:10px;color:#666;left:268px;">France</div>
<div class="t" style="top:782.15px;font-size:10px;color:#666;left:337.3px;">T. Conroy</div>
<div class="t" style="top:782.15px;font-size:10px;color:#666;right:528.3px;text-align:right;">€43.02</div>
<div class="t" style="top:775.65px;font-size:10px;color:#666;left:484px;">Payments by</div>
<div class="t" style="top:789.25px;font-size:10px;color:#666;left:484px;">check</div>
<div class="t" style="left:561px;top:778.32px;height:16.6px;line-height:15.6px;padding:1px 4.4px 0;background:#ff69b4;color:#363a41;font-size:10px;border-radius:2.5px;letter-spacing:0.06px">On backorder (not paid)</div>
<div class="t" style="top:775.65px;font-size:10px;color:#666;right:161.79999999999995px;text-align:right;letter-spacing:0.12px;">07/30/2020</div>
<div class="t" style="top:789.25px;font-size:10px;color:#666;right:161.79999999999995px;text-align:right;letter-spacing:-0.12px;">16:07:57</div>
<div class="a" style="left:924.5px;top:774.72px;width:48px;height:23.8px;background:#fff;border:1px solid #e3e7e9;border-radius:2px"></div>
<svg style="left:931.5px;top:781.32px" width="11" height="11" viewBox="0 0 11 11"><circle cx="4.6" cy="4.6" r="3.7" fill="none" stroke="#3a3e45" stroke-width="1.6"/><path d="M7.2 7.2 L10.2 10.2" stroke="#363a41" stroke-width="2.2" stroke-linecap="round"/><path d="M2.7 4.6 H6.5 M4.6 2.7 V6.5" stroke="#3a3e45" stroke-width="1.1"/></svg>
<div class="t" style="top:782.32px;font-size:9.8px;color:#444;left:945px;">View</div>
<div class="a" style="left:21px;top:804.3px;width:957.5px;height:33.43px;background:#f9fbfc;border-bottom:1px solid #e8edef"></div>
<div class="a" style="left:36px;top:812.65px;width:10.8px;height:10.8px;border:1px solid #8a8a8a;border-radius:2px;background:#fff"></div>
<div class="t" style="top:815.58px;font-size:10px;color:#666;left:71.4px;">1514</div>
<div class="t" style="top:815.58px;font-size:10px;color:#666;left:109px;"><span style="display:inline-block;transform:scaleX(0.88);transform-origin:0 0">ATGHZYDHM</span></div>
<div class="t" style="top:815.58px;font-size:10px;color:#666;left:208.0px;width:30px;text-align:center;">Yes</div>
<div class="t" style="top:815.58px;font-size:10px;color:#666;left:268px;">France</div>
<div class="t" style="top:815.58px;font-size:10px;color:#666;left:337.3px;">K. Jones</div>
<div class="t" style="top:815.58px;font-size:10px;color:#666;right:528.3px;text-align:right;">€196.60</div>
<div class="t" style="top:809.08px;font-size:10px;color:#666;left:484px;">Payments by</div>
<div class="t" style="top:822.68px;font-size:10px;color:#666;left:484px;">check</div>
<div class="t" style="left:561px;top:811.75px;height:16.6px;line-height:15.6px;padding:1px 4.4px 0;background:#8f0621;color:#fff;font-size:10px;border-radius:2.5px;letter-spacing:0.06px">Payment error</div>
<div class="t" style="top:809.08px;font-size:10px;color:#666;right:161.79999999999995px;text-align:right;letter-spacing:0.12px;">07/30/2020</div>
<div class="t" style="top:822.68px;font-size:10px;color:#666;right:161.79999999999995px;text-align:right;letter-spacing:-0.12px;">16:07:57</div>
<div class="a" style="left:924.5px;top:808.15px;width:48px;height:23.8px;background:#fff;border:1px solid #e3e7e9;border-radius:2px"></div>
<svg style="left:931.5px;top:814.75px" width="11" height="11" viewBox="0 0 11 11"><circle cx="4.6" cy="4.6" r="3.7" fill="none" stroke="#3a3e45" stroke-width="1.6"/><path d="M7.2 7.2 L10.2 10.2" stroke="#363a41" stroke-width="2.2" stroke-linecap="round"/><path d="M2.7 4.6 H6.5 M4.6 2.7 V6.5" stroke="#3a3e45" stroke-width="1.1"/></svg>
<div class="t" style="top:815.75px;font-size:9.8px;color:#444;left:945px;">View</div>
<div class="a" style="left:21px;top:837.73px;width:957.5px;height:33.43px;background:#fff;border-bottom:1px solid #e8edef"></div>
<div class="a" style="left:36px;top:846.08px;width:10.8px;height:10.8px;border:1px solid #8a8a8a;border-radius:2px;background:#fff"></div>
<div class="t" style="top:849.01px;font-size:10px;color:#666;left:71.4px;">1513</div>
<div class="t" style="top:849.01px;font-size:10px;color:#666;left:109px;"><span style="display:inline-block;transform:scaleX(0.88);transform-origin:0 0">SLUBLDRGT</span></div>
<div class="t" style="top:849.01px;font-size:10px;color:#666;left:208.0px;width:30px;text-align:center;">Yes</div>
<div class="t" style="top:849.01px;font-size:10px;color:#666;left:268px;">France</div>
<div class="t" style="top:849.01px;font-size:10px;color:#666;left:337.3px;">M. Schiller</div>
<div class="t" style="top:849.01px;font-size:10px;color:#666;right:528.3px;text-align:right;">€41.80</div>
<div class="t" style="top:842.51px;font-size:10px;color:#666;left:484px;">PrestaShop</div>
<div class="t" style="top:856.12px;font-size:10px;color:#666;left:484px;">Checkout</div>
<div class="t" style="left:561px;top:845.18px;height:16.6px;line-height:15.6px;padding:1px 4.4px 0;background:#dc143c;color:#fff;font-size:10px;border-radius:2.5px;letter-spacing:0.06px">Canceled</div>
<div class="t" style="top:842.51px;font-size:10px;color:#666;right:161.79999999999995px;text-align:right;letter-spacing:0.12px;">07/30/2020</div>
<div class="t" style="top:856.12px;font-size:10px;color:#666;right:161.79999999999995px;text-align:right;letter-spacing:-0.12px;">16:07:56</div>
<div class="a" style="left:864.6px;top:841.58px;width:24.2px;height:23.8px;background:#fff;border:1px solid #e3e7e9;border-radius:2px"></div>
<svg style="left:871.7px;top:847.58px" width="10" height="11" viewBox="0 0 10 11"><path d="M0 0 H6 L10 4 V11 H0 Z" fill="#2f3237"/><path d="M6 0 V4 H10 Z" fill="#9a9a9a"/><path d="M2 5.8 H8 M2 7.5 H8 M2 9.2 H8" stroke="#ddd" stroke-width="0.8"/></svg>
<div class="a" style="left:924.5px;top:841.58px;width:48px;height:23.8px;background:#fff;border:1px solid #e3e7e9;border-radius:2px"></div>
<svg style="left:931.5px;top:848.1800000000001px" width="11" height="11" viewBox="0 0 11 11"><circle cx="4.6" cy="4.6" r="3.7" fill="none" stroke="#3a3e45" stroke-width="1.6"/><path d="M7.2 7.2 L10.2 10.2" stroke="#363a41" stroke-width="2.2" stroke-linecap="round"/><path d="M2.7 4.6 H6.5 M4.6 2.7 V6.5" stroke="#3a3e45" stroke-width="1.1"/></svg>
<div class="t" style="top:849.18px;font-size:9.8px;color:#444;left:945px;">View</div>
<div class="a" style="left:21px;top:871.16px;width:957.5px;height:33.43px;background:#f9fbfc;border-bottom:1px solid #e8edef"></div>
<div class="a" style="left:36px;top:879.51px;width:10.8px;height:10.8px;border:1px solid #8a8a8a;border-radius:2px;background:#fff"></div>
<div class="t" style="top:882.44px;font-size:10px;color:#666;left:71.4px;">1511</div>
<div class="t" style="top:882.44px;font-size:10px;color:#666;left:109px;"><span style="display:inline-block;transform:scaleX(0.88);transform-origin:0 0">ZNPONOBOL</span></div>
<div class="t" style="top:882.44px;font-size:10px;color:#666;left:208.0px;width:30px;text-align:center;">Yes</div>
<div class="t" style="top:882.44px;font-size:10px;color:#666;left:268px;">France</div>
<div class="t" style="top:882.44px;font-size:10px;color:#666;left:337.3px;">T. Grady</div>
<div class="a" style="left:429.6px;top:879.11px;width:42px;height:15.6px;background:#5eb95e;border-radius:8px"></div>
<div class="t" style="top:882.44px;font-size:10px;color:#fff;right:532.8px;text-align:right;letter-spacing:0.45px;">€21.28</div>
<div class="t" style="top:875.94px;font-size:10px;color:#666;left:484px;">PrestaShop</div>
<div class="t" style="top:889.54px;font-size:10px;color:#666;left:484px;">Checkout</div>
<div class="t" style="left:561px;top:878.61px;height:16.6px;line-height:15.6px;padding:1px 4.4px 0;background:#108510;color:#fff;font-size:10px;border-radius:2.5px;letter-spacing:0.06px">Delivered</div>
<div class="t" style="top:875.94px;font-size:10px;color:#666;right:161.79999999999995px;text-align:right;letter-spacing:0.12px;">07/30/2020</div>
<div class="t" style="top:889.54px;font-size:10px;color:#666;right:161.79999999999995px;text-align:right;letter-spacing:-0.12px;">16:07:55</div>
<div class="a" style="left:850.3px;top:875.01px;width:49.5px;height:23.8px;background:#fff;border:1px solid #e3e7e9;border-radius:2px"></div>
<div class="a" style="left:874.5px;top:875.01px;width:1px;height:23.8px;background:#e3e7e9"></div>
<svg style="left:857.4px;top:881.01px" width="10" height="11" viewBox="0 0 10 11"><path d="M0 0 H6 L10 4 V11 H0 Z" fill="#2f3237"/><path d="M6 0 V4 H10 Z" fill="#9a9a9a"/><path d="M2 5.8 H8 M2 7.5 H8 M2 9.2 H8" stroke="#ddd" stroke-width="0.8"/></svg>
<svg style="left:881.8px;top:882.11px" width="11" height="9" viewBox="0 0 11 9"><path d="M3.2 0 H11 V7 H0 V4 L1.4 1.6 H3.2 Z" fill="#4a4a4a"/><circle cx="2.4" cy="7.3" r="1.5" fill="#4a4a4a"/><circle cx="8.6" cy="7.3" r="1.5" fill="#4a4a4a"/></svg>
<div class="a" style="left:924.5px;top:875.01px;width:48px;height:23.8px;background:#fff;border:1px solid #e3e7e9;border-radius:2px"></div>
<svg style="left:931.5px;top:881.61px" width="11" height="11" viewBox="0 0 11 11"><circle cx="4.6" cy="4.6" r="3.7" fill="none" stroke="#3a3e45" stroke-width="1.6"/><path d="M7.2 7.2 L10.2 10.2" stroke="#363a41" stroke-width="2.2" stroke-linecap="round"/><path d="M2.7 4.6 H6.5 M4.6 2.7 V6.5" stroke="#3a3e45" stroke-width="1.1"/></svg>
<div class="t" style="top:882.61px;font-size:9.8px;color:#444;left:945px;">View</div>
<svg style="left:0;top:0" width="1000" height="1000" viewBox="0 0 1000 1000"><circle cx="500" cy="503" r="116" fill="none" stroke="#fff" stroke-opacity="0.42" stroke-width="13"/><g fill="#fff" fill-opacity="0.3" transform="translate(0,452) skewX(6) translate(0,-452)"><path d="M419 452 H430 L447 510 V452 H457 V548 H447 L430 490 V548 H419 Z"/><path d="M467 452 H477 V532 A6 6 0 0 0 493 532 V452 H503 V536 A14 14 0 0 1 467 536 Z"/><path d="M517 452 H528 V538 H548 V548 H517 Z"/><path d="M560 452 H571 V538 H590 V548 H560 Z"/></g></svg>
<div class="a" style="left:661.7px;top:327.5px;width:135.1px;height:38.5px;border:1.3px solid #ec9a9a;border-radius:7px;background:#fff"></div>
<div class="t" style="top:337.12px;font-size:19px;color:#e0141e;left:672px;"><span style="display:inline-block;transform:scaleX(1.15);transform-origin:0 0;letter-spacing:0.92px;-webkit-text-stroke:0.25px #e0141e">Filter block</span></div>
<svg style="left:0;top:0" width="1000" height="1000" viewBox="0 0 1000 1000"><path d="M608.5 313.25 L630.5 315.45 L628.3 319.6 L646.75 332 L641.25 339.9 L623.1 328.1 L619 332.5 Z" fill="#f20000"/></svg>
<div class="a" style="left:0;top:889.7px;width:1000px;height:111px;background:#fff"></div></body></html>
